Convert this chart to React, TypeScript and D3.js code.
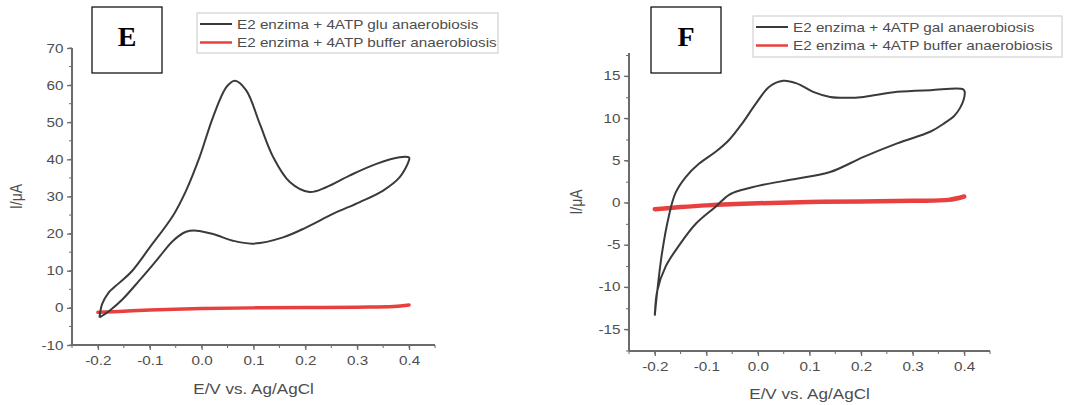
import React, { useEffect, useRef } from "react";
import * as d3 from "d3";

// ---- Panel E: glucose, anaerobiosis ----
const eGluForwardE = [-0.197, -0.192, -0.18, -0.16, -0.135, -0.1, -0.055, -0.03, -0.004, 0.022, 0.048, 0.064, 0.086, 0.112, 0.138, 0.17, 0.208, 0.24, 0.286, 0.337, 0.382, 0.4];
const eGluForwardI = [-2.6, 1.0, 4.0, 6.6, 9.8, 16.3, 24.9, 31.6, 40.6, 51.4, 59.5, 61.2, 58.6, 49.6, 40.6, 33.9, 31.2, 32.5, 35.7, 38.8, 40.6, 40.5];
const eGluReverseE = [0.4, 0.382, 0.35, 0.305, 0.253, 0.202, 0.157, 0.099, 0.06, 0.022, -0.01, -0.03, -0.055, -0.087, -0.12, -0.152, -0.177, -0.197];
const eGluReverseI = [39.8, 35.2, 31.6, 28.5, 25.3, 21.7, 19.0, 17.3, 18.1, 19.9, 20.8, 20.5, 18.1, 12.8, 7.4, 2.4, -0.7, -2.6];

const eBufE = [-0.2, -0.15, -0.1, 0.0, 0.1, 0.2, 0.3, 0.37, 0.4];
const eBufI = [-1.2, -0.9, -0.6, -0.2, 0.0, 0.1, 0.2, 0.35, 0.8];

// ---- Panel F: galactose, anaerobiosis ----
const fGalForwardE = [-0.2, -0.195, -0.186, -0.173, -0.16, -0.14, -0.114, -0.082, -0.056, -0.03, -0.004, 0.022, 0.049, 0.075, 0.107, 0.14, 0.172, 0.205, 0.27, 0.335, 0.398];
const fGalForwardI = [-13.4, -10.4, -6.0, -1.7, 1.1, 3.0, 4.6, 6.0, 7.4, 9.4, 11.7, 13.7, 14.4, 14.1, 13.1, 12.5, 12.4, 12.5, 13.1, 13.3, 13.4];
const fGalReverseE = [0.401, 0.399, 0.392, 0.38, 0.362, 0.335, 0.27, 0.205, 0.14, 0.075, 0.01, -0.03, -0.056, -0.082, -0.12, -0.153, -0.179, -0.195, -0.2];
const fGalReverseI = [13.1, 12.2, 11.2, 10.2, 9.4, 8.4, 7.0, 5.4, 3.6, 2.8, 2.1, 1.5, 0.9, -0.5, -2.5, -5.1, -7.6, -10.4, -13.4];

const fBufE = [-0.2, -0.15, -0.1, 0.0, 0.1, 0.2, 0.3, 0.37, 0.4];
const fBufI = [-0.8, -0.55, -0.35, -0.1, 0.05, 0.1, 0.2, 0.3, 0.7];

const xTicks = [-0.2, -0.1, 0.0, 0.1, 0.2, 0.3, 0.4];
const eYTicks = [-10, 0, 10, 20, 30, 40, 50, 60, 70];
const fYTicks = [-15, -10, -5, 0, 5, 10, 15];

const xLabel = "E/V vs. Ag/AgCl";
const yLabel = "I/\u03bcA";
const eLegend = ["E2 enzima + 4ATP glu anaerobiosis", "E2 enzima + 4ATP buffer anaerobiosis"];
const fLegend = ["E2 enzima + 4ATP gal anaerobiosis", "E2 enzima + 4ATP buffer anaerobiosis"];

const W = 1065;
const H = 405;
const FONT = "'Liberation Sans', Arial, sans-serif";
const STRETCH = 1.22; // sans text is set slightly widened
const AXIS = "#6b6b6b";
const TEXT = "#4d4d4d";
const BLACK_LINE = "#3a3a3a";
const RED_LINE = "#e8403f";

type PanelSpec = {
  letter: string;
  left: number;
  right: number;
  top: number;
  bottom: number;
  yDomain: [number, number];
  yTicks: number[];
  yMinorStep: number;
  fwdE: number[];
  fwdI: number[];
  revE: number[];
  revI: number[];
  bufE: number[];
  bufI: number[];
  legend: string[];
  legendBox: [number, number, number, number];
  letterBox: [number, number, number, number];
  yLabelX: number;
  xLabelY: number;
  redWidth: number;
};

const fmtTick = (digits: number) => (d: d3.NumberValue) =>
  (+d).toFixed(digits).replace("\u2212", "-");

type G = d3.Selection<SVGGElement, unknown, null, undefined>;

function sansText(g: G, x: number, y: number, str: string, size: number, anchor = "start", rotate = false) {
  const t = rotate
    ? `translate(${x},${y}) rotate(-90) scale(1,${STRETCH})`
    : `translate(${x},${y}) scale(${STRETCH},1)`;
  g.append("text")
    .attr("transform", t)
    .attr("text-anchor", anchor)
    .attr("fill", TEXT)
    .style("font-family", FONT)
    .style("font-size", `${size}px`)
    .text(str);
}

function drawPanel(g: G, p: PanelSpec) {
  const x = d3.scaleLinear().domain([-0.25, 0.45]).range([p.left, p.right]);
  const y = d3.scaleLinear().domain(p.yDomain).range([p.bottom, p.top]);

  // Minor ticks
  const xMinor = d3.range(-0.25, 0.4501, 0.05);
  g.selectAll(null)
    .data(xMinor)
    .enter()
    .append("line")
    .attr("x1", (d) => x(d))
    .attr("x2", (d) => x(d))
    .attr("y1", p.bottom)
    .attr("y2", p.bottom + 3)
    .attr("stroke", AXIS)
    .attr("stroke-width", 1);
  const yMinor = d3.range(p.yDomain[0], p.yDomain[1] + 0.001, p.yMinorStep);
  g.selectAll(null)
    .data(yMinor)
    .enter()
    .append("line")
    .attr("x1", p.left - 3)
    .attr("x2", p.left)
    .attr("y1", (d) => y(d))
    .attr("y2", (d) => y(d))
    .attr("stroke", AXIS)
    .attr("stroke-width", 1);

  // Major ticks and labels
  const xAxis = d3.axisBottom(x).tickValues(xTicks).tickSize(5).tickPadding(6).tickFormat(fmtTick(1));
  const xg = g.append("g").attr("transform", `translate(0,${p.bottom})`).call(xAxis);
  const yAxis = d3.axisLeft(y).tickValues(p.yTicks).tickSize(5).tickPadding(2).tickFormat(fmtTick(0));
  const yg = g.append("g").attr("transform", `translate(${p.left},0)`).call(yAxis);
  [xg, yg].forEach((ag) => {
    ag.select(".domain").remove();
    ag.selectAll(".tick line").attr("stroke", AXIS).attr("stroke-width", 1.3);
    ag.selectAll(".tick text")
      .attr("fill", TEXT)
      .attr("transform", `scale(${STRETCH},1)`)
      .style("font-family", FONT)
      .style("font-size", "12.5px");
  });

  // Axis lines
  g.append("line")
    .attr("x1", p.left)
    .attr("x2", p.left)
    .attr("y1", p.top)
    .attr("y2", p.bottom)
    .attr("stroke", AXIS)
    .attr("stroke-width", 2);
  g.append("line")
    .attr("x1", p.left)
    .attr("x2", p.right)
    .attr("y1", p.bottom)
    .attr("y2", p.bottom)
    .attr("stroke", AXIS)
    .attr("stroke-width", 2);

  // Axis titles
  sansText(g, (p.left + p.right) / 2, p.xLabelY, xLabel, 14, "middle");
  sansText(g, p.yLabelX, (p.top + p.bottom) / 2, yLabel, 14, "middle", true);

  // Curves
  const line = d3
    .line<[number, number]>()
    .x((d) => x(d[0]))
    .y((d) => y(d[1]))
    .curve(d3.curveCatmullRom.alpha(0.5));

  const bufPts: [number, number][] = p.bufE.map((e, i) => [e, p.bufI[i]]);
  g.append("path")
    .attr("d", line(bufPts))
    .attr("fill", "none")
    .attr("stroke", RED_LINE)
    .attr("stroke-width", p.redWidth)
    .attr("stroke-linecap", "round");

  const loop: [number, number][] = [
    ...p.fwdE.map((e, i) => [e, p.fwdI[i]] as [number, number]),
    ...p.revE.map((e, i) => [e, p.revI[i]] as [number, number]),
  ];
  g.append("path")
    .attr("d", line(loop))
    .attr("fill", "none")
    .attr("stroke", BLACK_LINE)
    .attr("stroke-width", 2)
    .attr("stroke-linejoin", "round");

  // Panel letter
  const [bx, by, bw, bh] = p.letterBox;
  g.append("rect")
    .attr("x", bx)
    .attr("y", by)
    .attr("width", bw)
    .attr("height", bh)
    .attr("fill", "#fff")
    .attr("stroke", "#000")
    .attr("stroke-width", 1.2);
  g.append("text")
    .attr("x", bx + bw / 2)
    .attr("y", by + 39)
    .attr("text-anchor", "middle")
    .attr("fill", "#000")
    .style("font-family", "'Liberation Serif', 'Times New Roman', serif")
    .style("font-weight", "bold")
    .style("font-size", "28px")
    .text(p.letter);

  // Legend
  const [lx, ly, lw, lh] = p.legendBox;
  g.append("rect")
    .attr("x", lx)
    .attr("y", ly)
    .attr("width", lw)
    .attr("height", lh)
    .attr("fill", "#fff")
    .attr("stroke", "#c8c8c8")
    .attr("stroke-width", 1);
  const colors = [BLACK_LINE, RED_LINE];
  p.legend.forEach((t, i) => {
    const yy = ly + 11 + i * 18.5;
    g.append("line")
      .attr("x1", lx + 3)
      .attr("x2", lx + 35)
      .attr("y1", yy)
      .attr("y2", yy)
      .attr("stroke", colors[i])
      .attr("stroke-width", i === 0 ? 2 : 2.5);
    sansText(g, lx + 40, yy + 4.5, t, 12.5);
  });
}

export default function App() {
  const ref = useRef<SVGSVGElement | null>(null);

  useEffect(() => {
    const svg = d3.select(ref.current);
    svg.selectAll("*").remove();

    const panels: PanelSpec[] = [
      {
        letter: "E",
        left: 72,
        right: 435,
        top: 48,
        bottom: 345,
        yDomain: [-10, 70],
        yTicks: eYTicks,
        yMinorStep: 5,
        fwdE: eGluForwardE,
        fwdI: eGluForwardI,
        revE: eGluReverseE,
        revI: eGluReverseI,
        bufE: eBufE,
        bufI: eBufI,
        legend: eLegend,
        legendBox: [197, 13, 301, 40],
        letterBox: [92, 7, 70, 66],
        yLabelX: 22,
        xLabelY: 394,
        redWidth: 3.5,
      },
      {
        letter: "F",
        left: 629,
        right: 990,
        top: 53,
        bottom: 351,
        yDomain: [-17.6, 17.7],
        yTicks: fYTicks,
        yMinorStep: 2.5,
        fwdE: fGalForwardE,
        fwdI: fGalForwardI,
        revE: fGalReverseE,
        revI: fGalReverseI,
        bufE: fBufE,
        bufI: fBufI,
        legend: fLegend,
        legendBox: [753, 16, 309, 41],
        letterBox: [651, 7, 70, 66],
        yLabelX: 582,
        xLabelY: 399,
        redWidth: 4.5,
      },
    ];

    panels.forEach((p) => {
      const g = svg.append("g");
      drawPanel(g, p);
    });
  }, []);

  return (
    <svg
      ref={ref}
      width={W}
      height={H}
      style={{ position: "absolute", left: 0, top: 0, background: "#fff" }}
    />
  );
}
